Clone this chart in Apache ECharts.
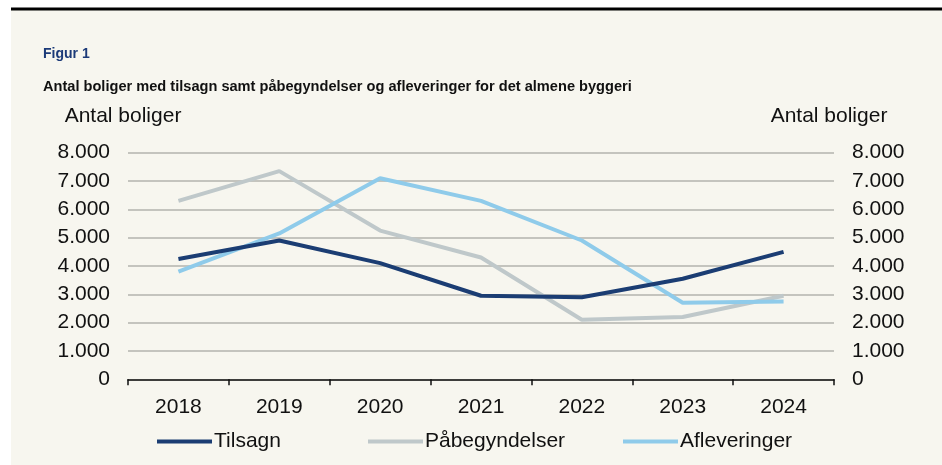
<!DOCTYPE html>
<html>
<head>
<meta charset="utf-8">
<script src="https://cdn.jsdelivr.net/npm/echarts@6/dist/echarts.min.js"></script>
<style>
html,body{margin:0;padding:0;background:#ffffff;}
#c{width:942px;height:465px;}
</style>
</head>
<body>
<div id="c"></div>
<script>
const years = ['2018','2019','2020','2021','2022','2023','2024'];
const tilsagn = [4250, 4900, 4100, 2950, 2900, 3550, 4500];
const paabegyndelser = [6300, 7350, 5250, 4300, 2100, 2200, 2950];
const afleveringer = [3800, 5150, 7100, 6300, 4900, 2700, 2750];
const seriesNames = ['Tilsagn', 'Påbegyndelser', 'Afleveringer'];
const figTitle = 'Figur 1';
const figSubtitle = 'Antal boliger med tilsagn samt påbegyndelser og afleveringer for det almene byggeri';
const axisName = 'Antal boliger';

const colors = ['#1b3d73', '#bfc8ca', '#8fcbea'];
const fmt = v => String(v).replace(/\B(?=(\d{3})+(?!\d))/g, '.');
const font = 'Liberation Sans, Arial, sans-serif';
const fs = 21;

const chart = echarts.init(document.getElementById('c'), null, {renderer:'canvas'});
const yAxisBase = {
  type:'value', min:0, max:8000, interval:1000,
  axisLine:{show:false}, axisTick:{show:false},
  splitLine:{show:true, lineStyle:{color:'#b3b3ae', width:1.5}},
  axisLabel:{formatter: fmt, color:'#111', fontSize:fs, fontFamily:font, margin:18},
  name: axisName, nameLocation:'end', nameGap:26,
  nameTextStyle:{color:'#111', fontSize:fs, fontFamily:font, padding:[0,10,0,0]}
};
const legendBase = {itemWidth:55, itemHeight:4, itemGap:0, icon:'rect', padding:0, top:431,
  textStyle:{color:'#111', fontSize:fs, fontFamily:font, padding:[0,0,0,-3]}};
chart.setOption({
  backgroundColor:'#f7f6ef',
  animation:false,
  graphic:[
    {type:'rect', shape:{x:0,y:0,width:942,height:8}, style:{fill:'#ffffff'}, silent:true},
    {type:'rect', shape:{x:0,y:0,width:11,height:465}, style:{fill:'#ffffff'}, silent:true},
    {type:'rect', shape:{x:11,y:7.5,width:931,height:3}, style:{fill:'#000000'}, silent:true},
    {type:'text', left:43, top:47, style:{text:figTitle, fill:'#1c3a78', font:'bold 14px ' + font}},
    {type:'text', left:43, top:79, style:{text:figSubtitle, fill:'#111', font:'bold 14.6px ' + font}}
  ],
  grid:{left:128, right:108, top:152.7, bottom:85.7, containLabel:false},
  xAxis:{
    type:'category', data:years, boundaryGap:true,
    axisLine:{lineStyle:{color:'#111', width:1.5}},
    axisTick:{show:true, length:6, lineStyle:{color:'#111', width:1.5}},
    axisLabel:{color:'#111', fontSize:fs, fontFamily:font, margin:17}
  },
  yAxis:[
    Object.assign({}, yAxisBase, {position:'left'}),
    Object.assign({}, yAxisBase, {position:'right', splitLine:{show:false}})
  ],
  legend:[
    Object.assign({}, legendBase, {data:[seriesNames[0]], left:157}),
    Object.assign({}, legendBase, {data:[seriesNames[1]], left:368}),
    Object.assign({}, legendBase, {data:[seriesNames[2]], left:623})
  ],
  series:[
    {name:seriesNames[0], type:'line', data:tilsagn, symbol:'none', lineStyle:{color:colors[0], width:4}, itemStyle:{color:colors[0]}, z:4},
    {name:seriesNames[1], type:'line', data:paabegyndelser, symbol:'none', lineStyle:{color:colors[1], width:4}, itemStyle:{color:colors[1]}, z:2},
    {name:seriesNames[2], type:'line', data:afleveringer, symbol:'none', lineStyle:{color:colors[2], width:4}, itemStyle:{color:colors[2]}, z:3}
  ]
});
</script>
</body>
</html>
